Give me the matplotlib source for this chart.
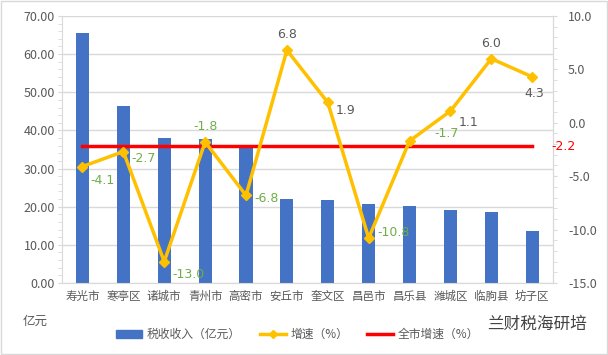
import matplotlib.pyplot as plt
from matplotlib.ticker import MultipleLocator
from matplotlib.lines import Line2D
from matplotlib.patches import Patch
import numpy as np

plt.rcParams['font.family'] = ['Noto Sans CJK SC', 'DejaVu Sans']

# data
regions = ["寿光市", "寒亭区", "诸城市", "青州市", "高密市", "安丘市",
           "奎文区", "昌邑市", "昌乐县", "潍城区", "临朐县", "坊子区"]
tax_income = [65.6, 46.4, 38.0, 37.8, 35.8, 22.0, 21.8, 20.7, 20.2, 19.1, 18.6, 13.6]
growth = [-4.1, -2.7, -13.0, -1.8, -6.8, 6.8, 1.9, -10.8, -1.7, 1.1, 6.0, 4.3]
city_growth = -2.2

bar_color = "#4472C4"
line_color = "#FFC000"
grey = "#595959"
green = "#70AD47"

fig = plt.figure(figsize=(6.08, 3.55), dpi=100)
ax = fig.add_axes([0.102, 0.203, 0.807, 0.752])
x = np.arange(len(regions))

ax.bar(x, tax_income, width=0.32, color=bar_color, zorder=2)
ax.set_ylim(0, 70)
ax.set_xlim(-0.5, len(regions) - 0.5)
ax.yaxis.set_major_locator(MultipleLocator(10))
ax.yaxis.set_minor_locator(MultipleLocator(2))
ax.set_yticklabels([f"{v:.2f}" for v in ax.get_yticks()])
ax.set_xticks(x)
ax.set_xticklabels(regions)
ax.grid(axis="y", color="#D9D9D9", linewidth=1, zorder=0)
ax.tick_params(axis="y", which="both", length=3, color="#D9D9D9", labelsize=9, labelcolor=grey, pad=2)
ax.tick_params(axis="x", length=0, labelsize=8.3, labelcolor=grey, pad=5)
ax.spines["top"].set_visible(False)
for s in ["left", "bottom", "right"]:
    ax.spines[s].set_color("#D9D9D9")

ax2 = ax.twinx()
ax2.plot(x, growth, color=line_color, linewidth=2.5, marker="D", markersize=5, zorder=4)
ax2.plot([x[0], x[-1]], [city_growth, city_growth], color="#FF0000", linewidth=2.5, zorder=3)
ax2.set_ylim(-15, 10)
ax2.yaxis.set_major_locator(MultipleLocator(5))
ax2.yaxis.set_minor_locator(MultipleLocator(1))
ax2.set_yticklabels([f"{v:.1f}" for v in ax2.get_yticks()])
ax2.tick_params(axis="y", which="both", length=3, color="#D9D9D9", labelsize=9, labelcolor=grey, pad=8)
for s in ["top", "left", "bottom"]:
    ax2.spines[s].set_visible(False)
ax2.spines["right"].set_color("#D9D9D9")

# data labels
offsets = {0: (6, -10), 1: (6, -5), 2: (6, -9), 3: (0, 11), 4: (6, -2),
           5: (0, 11), 6: (6, -6), 7: (6, 4), 8: (18, 5), 9: (6, -8),
           10: (0, 11), 11: (-6, -12)}
for i, g in enumerate(growth):
    dx, dy = offsets[i]
    ha = "center" if dx == 0 else "left"
    ax2.annotate(f"{g:.1f}", (x[i], g), xytext=(dx, dy), textcoords="offset points",
                 ha=ha, va="center", fontsize=9, color=green if g < 0 else grey,
                 family="DejaVu Sans")
ax2.annotate(f"{city_growth:.1f}", (x[-1], city_growth), xytext=(14, 0),
             textcoords="offset points", ha="left", va="center", fontsize=9,
             color="#FF0000", family="DejaVu Sans")

fig.text(0.058, 0.095, "亿元", fontsize=9, color=grey, ha="center", va="center")

handles = [Patch(color=bar_color),
           Line2D([], [], color=line_color, linewidth=2.5, marker="D", markersize=4),
           Line2D([], [], color="#FF0000", linewidth=2.5)]
labels = ["税收收入（亿元）", "增速（%）", "全市增速（%）"]
fig.legend(handles, labels, loc="center", bbox_to_anchor=(0.49, 0.057), ncol=3,
           frameon=False, fontsize=8.5, labelcolor=grey, handlelength=2.2,
           columnspacing=1.6, handletextpad=0.4)

fig.text(0.965, 0.085, "兰财税海研培", fontsize=12, color="#444444", ha="right", va="center")

border = plt.Rectangle((0.002, 0.003), 0.996, 0.994, transform=fig.transFigure,
                       fill=False, edgecolor="#D9D9D9", linewidth=1)
fig.patches.append(border)

fig.savefig("out.png", dpi=100)
